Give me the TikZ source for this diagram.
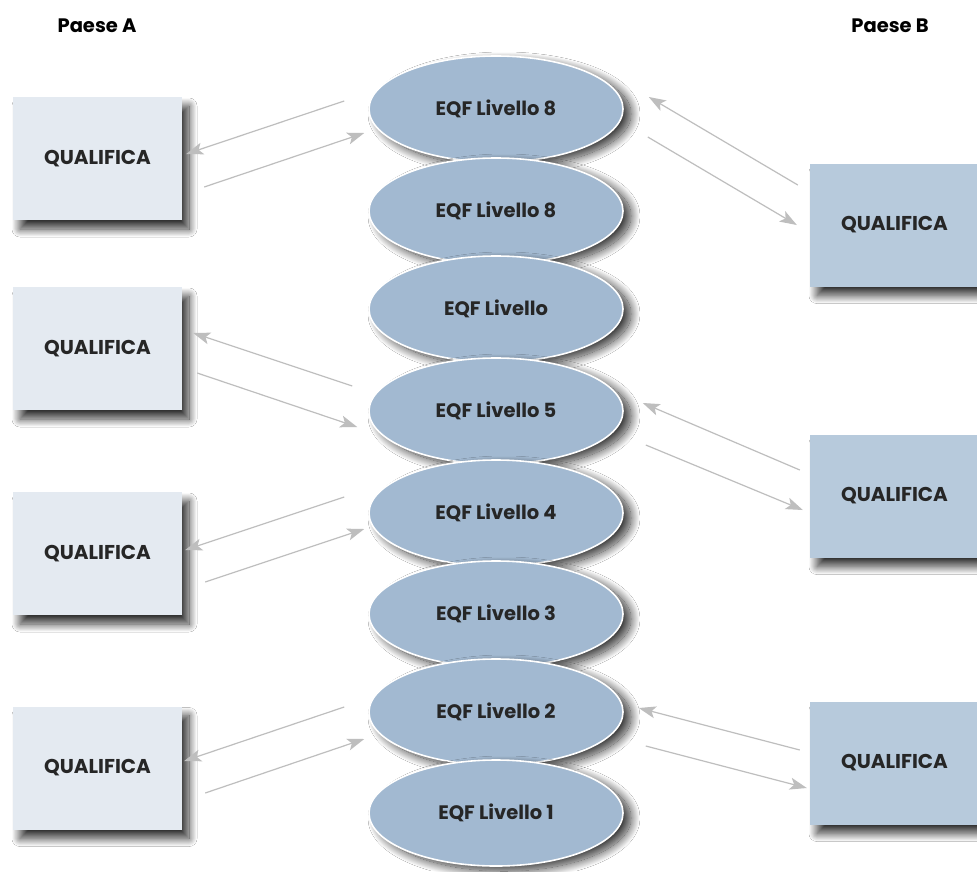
\documentclass[tikz,border=0pt]{standalone}
\usepackage{fontspec}
\setmainfont{Poppins}
\usepackage{tikz}
\usetikzlibrary{arrows.meta}
\usetikzlibrary{shapes.geometric}
\usetikzlibrary{shadows.blur}
\usetikzlibrary{calc}
\definecolor{lvlblue}{HTML}{A2B9D1}
\definecolor{paleA}{HTML}{E4EAF1}
\definecolor{paleB}{HTML}{B7CADC}
\definecolor{linkgray}{HTML}{BEBEBE}

\begin{document}
\begin{tikzpicture}[x=1pt,y=-1pt,
	lvl/.style={ellipse,draw=white,line width=1.6pt,fill=lvlblue,minimum width=254pt,minimum height=106pt,inner sep=0pt,font=\bfseries\fontsize{19.5}{22}\selectfont,text=black!85,blur shadow={shadow xshift=8pt,shadow yshift=-5pt,shadow blur radius=9pt,shadow blur steps=24,shadow opacity=80}},
	qual/.style={rectangle,minimum width=169pt,minimum height=123pt,inner sep=0pt,font=\bfseries\fontsize{20}{22}\selectfont,text=black!85,blur shadow={shadow xshift=7pt,shadow yshift=-9pt,shadow blur radius=8pt,shadow blur steps=24,shadow opacity=80}},
	link/.style={draw=linkgray,line width=1.2pt,-{Stealth[length=17pt,width=12pt,inset=4pt]}}]

	\useasboundingbox[fill=white] (0,0) rectangle (977,871);

	\node[font=\bfseries\fontsize{19.5}{22}\selectfont] (paeseA) at (97,26) {Paese A};
	\node[font=\bfseries\fontsize{19.5}{22}\selectfont] (paeseB) at (890,26) {Paese B};

	% livelli EQF
	\node[lvl] (e8a) at (496,109) {EQF Livello 8};
	\node[lvl] (e8b) at (496,211) {EQF Livello 8};
	\node[lvl] (e7) at (496,309) {EQF Livello};
	\node[lvl] (e5) at (496,411) {EQF Livello 5};
	\node[lvl] (e4) at (496,513) {EQF Livello 4};
	\node[lvl] (e3) at (496,614) {EQF Livello 3};
	\node[lvl] (e2) at (496,712) {EQF Livello 2};
	\node[lvl] (e1) at (496,813) {EQF Livello 1};

	% qualifiche
	\node[qual,fill=paleA] (qa1) at (97.5,158.5) {QUALIFICA};
	\node[qual,fill=paleA] (qa2) at (97.5,348.5) {QUALIFICA};
	\node[qual,fill=paleA] (qa3) at (97.5,553.5) {QUALIFICA};
	\node[qual,fill=paleA] (qa4) at (97.5,768) {QUALIFICA};
	\node[qual,fill=paleB] (qb1) at (894.5,225) {QUALIFICA};
	\node[qual,fill=paleB] (qb2) at (894.5,496) {QUALIFICA};
	\node[qual,fill=paleB] (qb3) at (894.5,763) {QUALIFICA};

	% frecce
	\draw[link] ($(e8a.west)+(-24,-8)$) -- ($(qa1.east)+(4,-4.5)$);
	\draw[link] ($(qa1.east)+(22,28.5)$) -- ($(e8a.west)+(-4,24)$);
	\draw[link] ($(e5.west)+(-16,-25)$) -- ($(qa2.east)+(11,-15.5)$);
	\draw[link] ($(qa2.east)+(15,24.5)$) -- ($(e5.west)+(-11,16)$);
	\draw[link] ($(e4.west)+(-24,-16)$) -- ($(qa3.east)+(3,-3.5)$);
	\draw[link] ($(qa3.east)+(23,28.5)$) -- ($(e4.west)+(-4,16)$);
	\draw[link] ($(e2.west)+(-24,-5)$) -- ($(qa4.east)+(2,-7)$);
	\draw[link] ($(qa4.east)+(23,25)$) -- ($(e2.west)+(-4,27)$);

	\draw[link] ($(qb1.west)+(-12,-40)$) -- ($(e8a.east)+(25,-12)$);
	\draw[link] ($(e8a.east)+(24,28)$) -- ($(qb1.west)+(-13,0)$);
	\draw[link] ($(qb2.west)+(-10,-26)$) -- ($(e5.east)+(19,-8)$);
	\draw[link] ($(e5.east)+(22,34)$) -- ($(qb2.west)+(-7,14)$);
	\draw[link] ($(qb3.west)+(-10,-13)$) -- ($(e2.east)+(15,-4)$);
	\draw[link] ($(e2.east)+(22,34)$) -- ($(qb3.west)+(-3,25)$);
\end{tikzpicture}
\end{document}
